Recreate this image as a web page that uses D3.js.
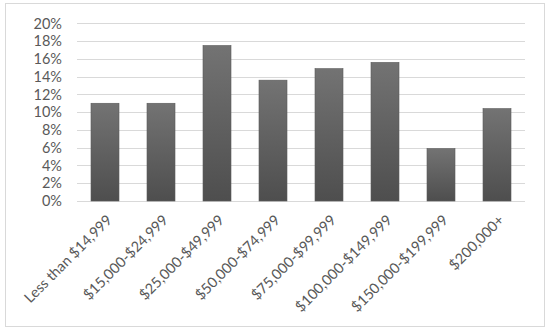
<!DOCTYPE html>
<html><head><meta charset="utf-8">
<script src="https://cdn.jsdelivr.net/npm/d3@7"></script>
<style>body{margin:0;background:#fff}</style>
</head><body>
<svg id="c" width="550" height="332"></svg>
<script>
const categories = ["Less than $14,999","$15,000-$24,999","$25,000-$49,999","$50,000-$74,999","$75,000-$99,999","$100,000-$149,999","$150,000-$199,999","$200,000+"];
const values = [11.0, 11.0, 17.5, 13.6, 14.9, 15.6, 5.9, 10.4];
const yTicks = [0,2,4,6,8,10,12,14,16,18,20];

const svg = d3.select("#c");
svg.append("rect").attr("x",5.5).attr("y",3.5).attr("width",539).attr("height",323)
  .attr("fill","#fff").attr("stroke","#d9d9d9");

const m = {l:77, r:525, t:23.3, b:201};
const x = d3.scaleBand().domain(categories).range([m.l,m.r]).paddingInner(0.5).paddingOuter(0.25);
const y = d3.scaleLinear().domain([0,20]).range([m.b,m.t]);

const defs = svg.append("defs");
const g = defs.append("linearGradient").attr("id","bg").attr("x1",0).attr("y1",0).attr("x2",0).attr("y2",1);
g.append("stop").attr("offset","0%").attr("stop-color","#737373");
g.append("stop").attr("offset","100%").attr("stop-color","#4e4e4e");

const font = "Lato, 'Open Sans', sans-serif";
svg.append("g").selectAll("line").data(yTicks).join("line")
  .attr("x1",m.l).attr("x2",m.r)
  .attr("y1",d=>Math.round(y(d))+0.5).attr("y2",d=>Math.round(y(d))+0.5)
  .attr("stroke","#d9d9d9").attr("stroke-width",1);

svg.append("g").selectAll("text").data(yTicks).join("text")
  .attr("x",62).attr("y",d=>y(d)).attr("dy","0.36em")
  .attr("text-anchor","end").attr("fill","#595959")
  .style("font-family",font).style("font-size","14.5px")
  .text(d=>d+"%");

svg.append("g").selectAll("rect").data(values).join("rect")
  .attr("x",(d,i)=>x(categories[i])).attr("width",x.bandwidth())
  .attr("y",d=>y(d)).attr("height",d=>y(0)-y(d))
  .attr("fill","url(#bg)").attr("stroke","#5a5a5a").attr("stroke-width",0.6);

svg.append("g").selectAll("text").data(categories).join("text")
  .attr("transform",d=>`translate(${x(d)+x.bandwidth()/2+8},${m.b+20}) rotate(-45)`)
  .attr("text-anchor","end").attr("fill","#595959")
  .style("font-family",font).style("font-size","14.5px")
  .text(d=>d);
</script>
</body></html>
